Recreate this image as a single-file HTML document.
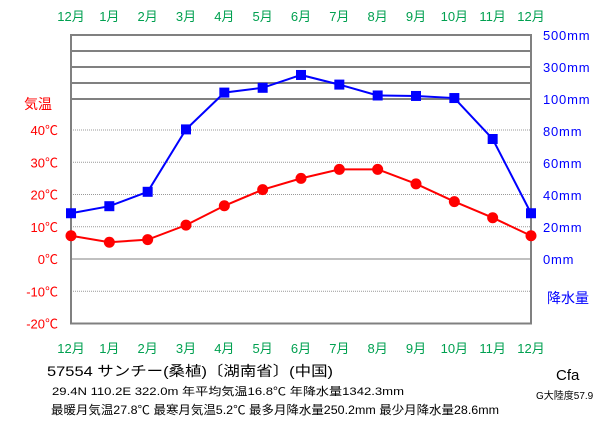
<!DOCTYPE html>
<html><head><meta charset="utf-8"><style>
body{margin:0;background:#fff;}
svg{display:block;font-family:"Liberation Sans","Noto Sans CJK JP",sans-serif;}
</style></head><body>
<svg width="611" height="425" viewBox="0 0 611 425" xmlns="http://www.w3.org/2000/svg">
<g id="grid"></g>
<g id="labels"></g>
<g id="series"></g>
<g>
<text x="47" y="376" font-size="14" textLength="286" lengthAdjust="spacingAndGlyphs">57554  サンチー(桑植)〔湖南省〕(中国)</text>
<text x="52" y="395" font-size="11" textLength="352" lengthAdjust="spacingAndGlyphs">29.4N  110.2E  322.0m 年平均気温16.8℃ 年降水量1342.3mm</text>
<text x="51" y="414" font-size="12" textLength="448" lengthAdjust="spacingAndGlyphs">最暖月気温27.8℃ 最寒月気温5.2℃ 最多月降水量250.2mm 最少月降水量28.6mm</text>
<text x="556" y="380" font-size="15">Cfa</text>
<text x="536" y="399" font-size="10">G大陸度57.9</text>
</g>
</svg>
<script>
const months=["12月","1月","2月","3月","4月","5月","6月","7月","8月","9月","10月","11月","12月"];
const temps=[7.2,5.2,6.0,10.5,16.5,21.5,25.0,27.8,27.8,23.3,17.8,12.8,7.2];
const precip=[28.6,33,42,81,140,170,250.2,190,122,119,106,75,28.6];
const tempTicks=[40,30,20,10,0,-10,-20];
const precipTicks=[500,300,100,80,60,40,20,0];
const NS="http://www.w3.org/2000/svg";
const X0=71,X1=531;
function xs(i){return X0+(X1-X0)*i/(months.length-1);}
function yT(t){return 259-t*3.225;}
function yP(p){return p<=100?259-p*1.6:99-(p-100)*0.16;}
function mk(tag,attrs,parent,text){const e=document.createElementNS(NS,tag);for(const k in attrs)e.setAttribute(k,attrs[k]);if(text!==undefined)e.textContent=text;parent.appendChild(e);return e;}
const grid=document.getElementById('grid'),labels=document.getElementById('labels'),series=document.getElementById('series');
[200,300,400].forEach(p=>{const l=mk('line',{x1:X0,x2:X1,y1:yP(p),y2:yP(p),stroke:'#808080','stroke-width':2},grid);});
{const l=mk('line',{x1:X0,x2:X1,y1:yP(100),y2:yP(100),stroke:'#808080','stroke-width':2},grid);}
tempTicks.forEach(t=>{if(t===-20)return;const l=mk('line',{x1:X0,x2:X1,y1:yT(t),y2:yT(t),stroke:t===0?'#808080':'#999','stroke-width':1,'stroke-dasharray':t===0?'':'1,1'},grid);});
{const r=mk('rect',{x:X0,y:yP(500),width:X1-X0,height:yT(-20)-yP(500),fill:'none',stroke:'#808080','stroke-width':2},grid);}
months.forEach((m,i)=>{[16,348].forEach(y=>{const t=mk('text',{x:xs(i),y:y+5,'font-size':13,fill:'#00a050','text-anchor':'middle'},labels,m);});});
tempTicks.forEach(t=>{const e=mk('text',{x:58,y:yT(t)+5,'font-size':13,fill:'#ff0000','text-anchor':'end'},labels,t+'℃');});
{const e=mk('text',{x:24,y:109,'font-size':14,fill:'#ff0000'},labels,'気温');}
precipTicks.forEach(p=>{const e=mk('text',{x:543,y:yP(p)+5,'font-size':13,fill:'#0000ff','letter-spacing':'0.8'},labels,p+'mm');});
{const e=mk('text',{x:547,y:303,'font-size':14,fill:'#0000ff'},labels,'降水量');}
{const pl=mk('polyline',{points:precip.map((p,i)=>xs(i)+','+yP(p)).join(' '),fill:'none',stroke:'#0000ff','stroke-width':2},series);}
precip.forEach((p,i)=>{const r=mk('rect',{x:xs(i)-5,y:yP(p)-5,width:10,height:10,fill:'#0000ff'},series);});
{const pl=mk('polyline',{points:temps.map((t,i)=>xs(i)+','+yT(t)).join(' '),fill:'none',stroke:'#ff0000','stroke-width':2},series);}
temps.forEach((t,i)=>{const c=mk('circle',{cx:xs(i),cy:yT(t),r:5.5,fill:'#ff0000'},series);});
</script>
</body></html>
